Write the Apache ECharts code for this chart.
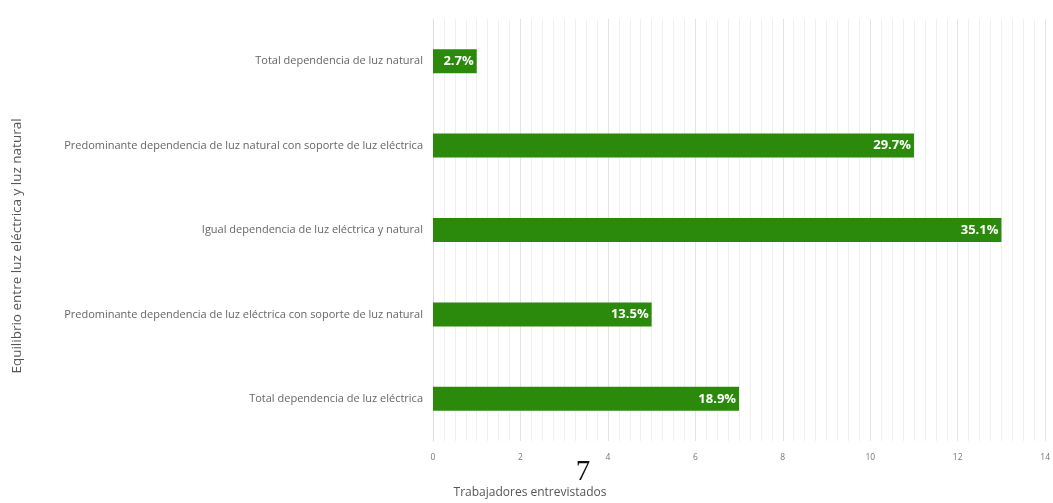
<!DOCTYPE html>
<html>
<head>
<meta charset="utf-8">
<script src="https://cdn.jsdelivr.net/npm/echarts@6/dist/echarts.min.js"></script>
<style>
html,body{margin:0;padding:0;background:#fff;}
#c{width:1053px;height:503px;}
</style>
</head>
<body>
<div id="c"></div>
<script>
const categories = [
  "Total dependencia de luz natural",
  "Predominante dependencia de luz natural con soporte de luz eléctrica",
  "Igual dependencia de luz eléctrica y natural",
  "Predominante dependencia de luz eléctrica con soporte de luz natural",
  "Total dependencia de luz eléctrica"
];
const workers = [1, 11, 13, 5, 7];
const total = workers.reduce((a, b) => a + b, 0);
const xTicks = [0, 2, 4, 6, 8, 10, 12, 14];
const xTitle = 'Trabajadores entrevistados';
const yTitle = 'Equilibrio entre luz eléctrica y luz natural';

const chart = echarts.init(document.getElementById('c'), null, {renderer: 'canvas'});
chart.setOption({
  animation: false,
  backgroundColor: '#ffffff',
  grid: {left: 433, right: 4, top: 19, bottom: 62, containLabel: false},
  xAxis: {
    type: 'value',
    min: xTicks[0],
    max: xTicks[xTicks.length - 1],
    interval: 2,
    axisLine: {show: false},
    axisTick: {show: false},
    axisLabel: {color: '#777', fontSize: 8.5, margin: 12, fontFamily: 'Open Sans'},
    splitLine: {show: true, lineStyle: {color: '#e4e4e4', width: 1}},
    minorTick: {show: false, splitNumber: 8},
    minorSplitLine: {show: true, lineStyle: {color: '#f0f0f0', width: 1}}
  },
  yAxis: {
    type: 'category',
    data: categories,
    inverse: true,
    axisLine: {show: true, lineStyle: {color: '#dddddd'}},
    axisTick: {show: false},
    axisLabel: {color: '#666', fontSize: 11, margin: 10, fontFamily: 'Open Sans'}
  },
  series: [{
    type: 'bar',
    data: workers,
    barWidth: 24,
    itemStyle: {color: '#2b8a0c'},
    label: {
      show: true,
      position: 'insideRight',
      distance: 3,
      color: '#ffffff',
      fontSize: 13,
      fontWeight: 'bold',
      fontFamily: 'Open Sans',
      formatter: p => (p.value / total * 100).toFixed(1) + '%'
    }
  }],
  graphic: [{
    type: 'text',
    x: 530,
    y: 493,
    style: {text: xTitle, fill: '#555', font: '12px "Open Sans"', align: 'center', verticalAlign: 'middle'}
  }, {
    type: 'text',
    x: 17,
    y: 246,
    rotation: Math.PI / 2,
    style: {text: yTitle, fill: '#555', font: '13.5px "Open Sans"', align: 'center', verticalAlign: 'middle'}
  }, {
    type: 'text',
    x: 583,
    y: 458,
    style: {text: '7', fill: '#111', font: '29px "Liberation Serif", "DejaVu Serif", serif', align: 'center', verticalAlign: 'top'}
  }]
});
</script>
</body>
</html>
